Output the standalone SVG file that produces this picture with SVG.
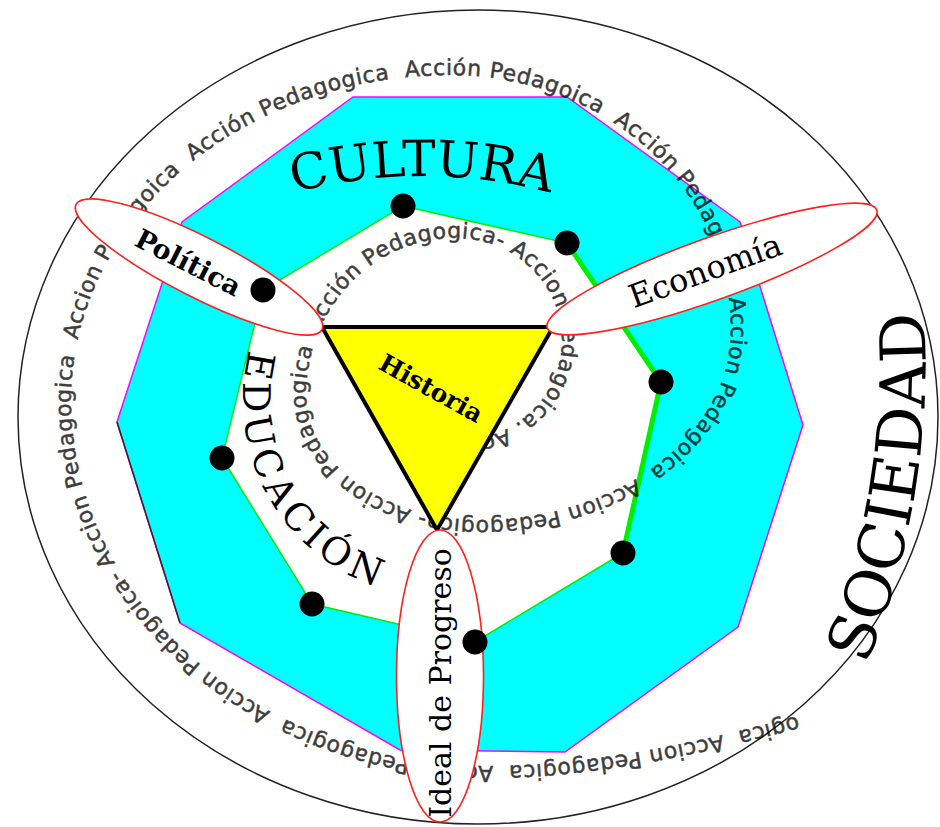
<svg xmlns="http://www.w3.org/2000/svg" width="940" height="827" viewBox="0 0 940 827">
<style>
.sp{font-family:"DejaVu Sans",sans-serif;font-size:22px;letter-spacing:0.6px;fill:#000;stroke:#000;stroke-width:0.5;white-space:pre}
.big{font-family:"DejaVu Serif","Liberation Serif",serif;fill:#000}
.lbl{font-family:"DejaVu Serif","Liberation Serif",serif;fill:#000}
.ov{fill:#fff;stroke:#ff2020;stroke-width:1.6}
.dot{fill:#000}
</style>
<defs>
<path id="spiral" d="M 797 716 C 720 737 600 766 490 766 A 419 366 0 0 1 71 400 A 379 325 0 0 1 450 75 A 281 255 0 0 1 731 330 A 251 190 0 0 1 480 520 A 174 125 0 0 1 306 395 A 149 157 0 0 1 455 238 A 107 102 0 0 1 562 340 A 102 100 0 0 1 460 440"/>
<path id="pCult" d="M 251 206.2 A 500 500 0 0 1 593 206.2"/>
<path id="pEdu" d="M 249.7 349 A 197 197 0 0 0 405.8 594"/>
<path id="pSoc" d="M 866 665 A 447 610 0 0 0 910 202"/>
</defs>
<g id="background">
<ellipse cx="478" cy="417" rx="460" ry="407" fill="#fff" stroke="#222" stroke-width="1.5"/>
<polygon points="353,97 567,97 740,222 803,425 738,627 565,752 400,750 180,623 117,422 182,222" fill="#00ffff" stroke="#ff00ff" stroke-width="1.5"/>
<line x1="117" y1="422" x2="180" y2="623" stroke="#402020" stroke-width="1.5"/>
<polygon points="403,206 567,243 661,382 623,553 475,642 312,604 222,458 263,290" fill="#fff" stroke="#00ee00" stroke-width="1.5"/>
<polyline points="567,243 661,382 623,553" fill="none" stroke="#00ee00" stroke-width="5"/>
</g>
<g id="spiral-text" opacity="0.76">
<text class="sp" xml:space="preserve"><textPath href="#spiral">ogica  Accion Pedagogica  Accion Pedagogica  Accion Pedagoica- Accion Pedagogica  Accion Pedagoica  Acción Pedagogica  Acción Pedagoica  Acción Pedagoica  Accion Pedagoica  Accion Pedagogica- Accion Pedagogica  Acción Pedagogica- Accion Pedagoica. Accion Pedagogica</textPath></text>
</g>
<g id="historia">
<polygon points="322,327 553,327 437,530" fill="#ffff00" stroke="#000" stroke-width="4" stroke-linejoin="miter"/>
<text class="lbl" font-size="25" font-weight="bold" text-anchor="middle" transform="translate(427,396) rotate(29)">Historia</text>
</g>
<g id="politica">
<ellipse class="ov" cx="199" cy="267" rx="138" ry="30" transform="rotate(27 199 267)"/>
<text class="lbl" font-size="27" font-weight="bold" text-anchor="middle" transform="translate(184,271) rotate(27)">Política</text>
</g>
<g id="economia">
<ellipse class="ov" cx="712" cy="269" rx="175" ry="31" transform="rotate(-19.7 712 269)"/>
<text class="lbl" font-size="32" text-anchor="middle" transform="translate(709,281) rotate(-20)">Economía</text>
</g>
<g id="ideal">
<ellipse class="ov" cx="440" cy="676" rx="43.5" ry="146"/>
<text class="lbl" font-size="30" text-anchor="middle" transform="translate(451,683) rotate(-90)">Ideal de Progreso</text>
</g>
<g id="dots">
<circle class="dot" cx="403" cy="206" r="12.5"/>
<circle class="dot" cx="567" cy="243" r="12.5"/>
<circle class="dot" cx="661" cy="382" r="12.5"/>
<circle class="dot" cx="623" cy="553" r="12.5"/>
<circle class="dot" cx="475" cy="642" r="12.5"/>
<circle class="dot" cx="312" cy="604" r="12.5"/>
<circle class="dot" cx="222" cy="458" r="12.5"/>
<circle class="dot" cx="263" cy="290" r="12.5"/>
</g>
<g id="cultura">
<text class="big" font-size="50"><textPath href="#pCult" startOffset="50%" text-anchor="middle">CULTURA</textPath></text>
</g>
<g id="educacion">
<text class="big" font-size="38" letter-spacing="5"><textPath href="#pEdu" startOffset="1">EDUCACIÓN</textPath></text>
</g>
<g id="sociedad">
<text class="big" font-size="63"><textPath href="#pSoc">SOCIEDAD</textPath></text>
</g>
</svg>
